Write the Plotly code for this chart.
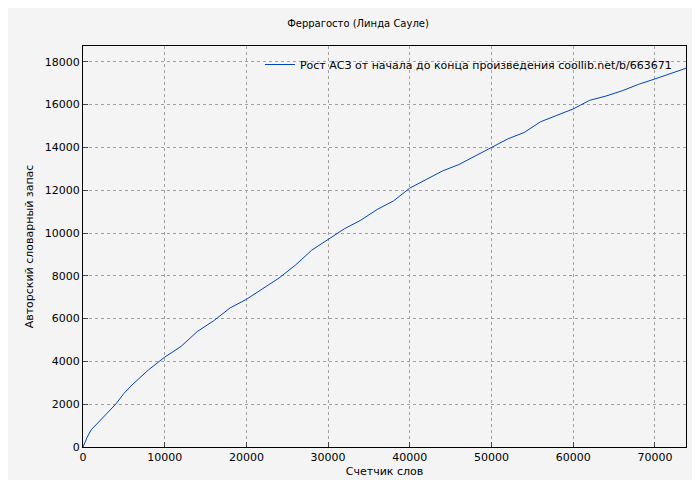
import plotly.graph_objects as go

words = [0, 500, 1000, 2000, 3000, 4000, 5000, 6000, 8000, 10000, 12000, 14000, 16000, 18000, 20000,
         22000, 24000, 26000, 28000, 30000, 32000, 34000, 36000, 38000, 40000, 42000, 44000,
         46000, 48000, 50000, 52000, 54000, 56000, 58000, 60000, 62000, 64000, 66000, 68000,
         70000, 72000, 73800]
vocab = [0, 450, 800, 1200, 1650, 2000, 2500, 2900, 3600, 4200, 4700, 5400, 5900, 6500, 6900,
         7400, 7900, 8500, 9200, 9700, 10200, 10600, 11100, 11500, 12100, 12500, 12900,
         13200, 13600, 14000, 14400, 14700, 15200, 15500, 15800, 16200, 16400, 16650, 16950,
         17200, 17450, 17700]

fig = go.Figure(go.Scatter(x=words, y=vocab, mode="lines",
                           line=dict(color="#0044bb", width=1),
                           name="Рост АСЗ от начала до конца произведения coollib.net/b/663671"))
axis = dict(showline=True, linecolor="black", mirror=True, ticks="inside", ticklen=5,
            gridcolor="#a0a0a0", griddash="dot", zeroline=False, automargin=False,
            tickformat="d", tickfont=dict(size=11, color="black"))
fig.update_layout(
    width=700, height=480,
    paper_bgcolor="#f4f4f4", plot_bgcolor="#f4f4f4",
    font=dict(family="DejaVu Sans", size=11, color="black"),
    title=dict(text="Феррагосто (Линда Сауле)", x=0.5, y=0.975, xanchor="center", font=dict(size=10)),
    margin=dict(l=75, r=22, t=38, b=41),
    showlegend=True,
    legend=dict(x=0.985, y=0.99, xanchor="right", yanchor="top", bgcolor="rgba(0,0,0,0)",
                font=dict(size=11)),
    xaxis=dict(axis, range=[0, 73800], dtick=10000,
               title=dict(text="Счетчик слов", standoff=4, font=dict(size=11))),
    yaxis=dict(axis, range=[0, 18740], dtick=2000,
               title=dict(text="Авторский словарный запас", standoff=8, font=dict(size=11))),
)
fig.write_html("out.html")
